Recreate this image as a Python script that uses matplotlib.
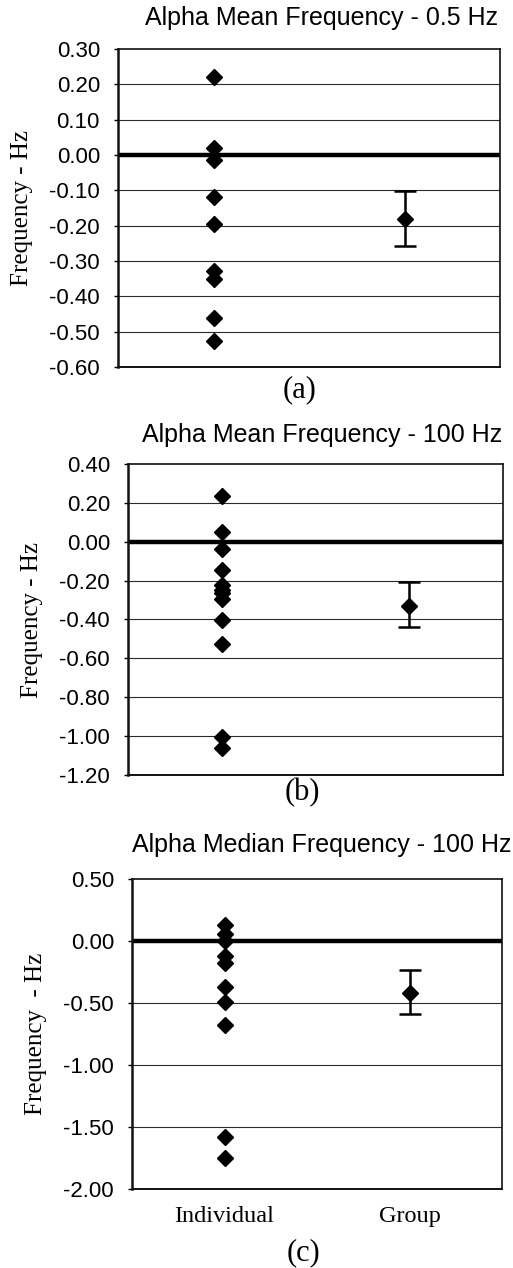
"""
Alpha frequency shift plots: individual subjects and group mean with error bars.
"""

import matplotlib.pyplot as plt
import numpy as np

# Panel (a): Alpha mean frequency, 0.5 Hz
a_individual = [0.222, 0.019, -0.014, -0.120, -0.194, -0.328, -0.350, -0.461, -0.525]
a_group_mean = -0.180
a_group_upper = -0.101
a_group_lower = -0.257
a_ticks = [0.30, 0.20, 0.10, 0.00, -0.10, -0.20, -0.30, -0.40, -0.50, -0.60]

# Panel (b): Alpha mean frequency, 100 Hz
b_individual = [0.235, 0.051, -0.038, -0.146, -0.220, -0.249, -0.266, -0.297,
                -0.403, -0.527, -1.003, -1.063]
b_group_mean = -0.331
b_group_upper = -0.206
b_group_lower = -0.437
b_ticks = [0.40, 0.20, 0.00, -0.20, -0.40, -0.60, -0.80, -1.00, -1.20]

# Panel (c): Alpha median frequency, 100 Hz
c_individual = [0.129, 0.056, 0.003, -0.121, -0.180, -0.368, -0.489, -0.677,
                -1.577, -1.752]
c_group_mean = -0.422
c_group_upper = -0.234
c_group_lower = -0.589
c_ticks = [0.50, 0.00, -0.50, -1.00, -1.50, -2.00]

categories = ["Individual", "Group"]

SANS = "Liberation Sans"
SERIF = "Liberation Serif"


def draw_panel(fig, rect, individual, mean, upper, lower, ticks,
               title, title_xy, ylabel, ylabel_x, letter, letter_xy,
               show_xlabels=False):
    ax = fig.add_axes(rect)
    ax.set_xlim(0.5, 2.5)
    ax.set_ylim(min(ticks), max(ticks))

    # horizontal grid at every tick, heavy line at zero
    for t in ticks:
        if abs(t) < 1e-9:
            ax.axhline(0, color="black", linewidth=3.2, zorder=2)
        elif t not in (min(ticks), max(ticks)):
            ax.axhline(t, color="#2a2a2a", linewidth=0.8, zorder=1)

    x_ind = np.full(len(individual), 1.0)
    ax.plot(x_ind, individual, linestyle="none", marker="D", markersize=8,
            color="black", zorder=3)
    ax.errorbar([2.0], [mean], yerr=[[mean - lower], [upper - mean]],
                fmt="D", markersize=8, color="black", ecolor="black",
                elinewidth=1.8, capsize=8, capthick=1.8, zorder=3)

    ax.set_yticks(ticks)
    ax.set_yticklabels([f"{t:.2f}" for t in ticks], fontfamily=SANS,
                       fontsize=16)
    ax.tick_params(axis="y", direction="out", length=3, width=1, pad=10)

    if show_xlabels:
        ax.set_xticks([1, 2])
        ax.set_xticklabels(categories, fontfamily=SERIF, fontsize=17.5)
        ax.tick_params(axis="x", length=0, pad=12)
    else:
        ax.set_xticks([])

    for side, lw in (("left", 1.8), ("bottom", 1.4), ("top", 1.2), ("right", 1.2)):
        ax.spines[side].set_linewidth(lw)
        ax.spines[side].set_color("#111111")

    fig.text(title_xy[0], title_xy[1], title, fontfamily=SANS, fontsize=18,
             ha="right", va="center")
    fig.text(ylabel_x, rect[1] + rect[3] / 2, ylabel, fontfamily=SERIF,
             fontsize=18, rotation=90, ha="center", va="center")
    fig.text(letter_xy[0], letter_xy[1], letter, fontfamily=SERIF,
             fontsize=22, ha="center", va="center")
    return ax


def main() -> None:
    W, H = 513, 1268
    fig = plt.figure(figsize=(W / 100, H / 100), dpi=100)

    def r(l, t, rr, b):
        return [l / W, 1 - b / H, (rr - l) / W, (b - t) / H]

    draw_panel(fig, r(118, 49, 500, 367), a_individual, a_group_mean,
               a_group_upper, a_group_lower, a_ticks,
               "Alpha Mean Frequency - 0.5 Hz", (498 / W, 1 - 18 / H),
               "Frequency - Hz", 22 / W, "(a)", (300 / W, 1 - 390 / H))
    draw_panel(fig, r(128, 464, 503, 775), b_individual, b_group_mean,
               b_group_upper, b_group_lower, b_ticks,
               "Alpha Mean Frequency - 100 Hz", (502 / W, 1 - 435 / H),
               "Frequency - Hz", 32 / W, "(b)", (302 / W, 1 - 793 / H))
    draw_panel(fig, r(132, 879, 502, 1189), c_individual, c_group_mean,
               c_group_upper, c_group_lower, c_ticks,
               "Alpha Median Frequency - 100 Hz", (511 / W, 1 - 845 / H),
               "Frequency  - Hz", 36 / W, "(c)", (303 / W, 1 - 1253 / H),
               show_xlabels=True)

    fig.savefig("out.png", dpi=100)


if __name__ == "__main__":
    main()
